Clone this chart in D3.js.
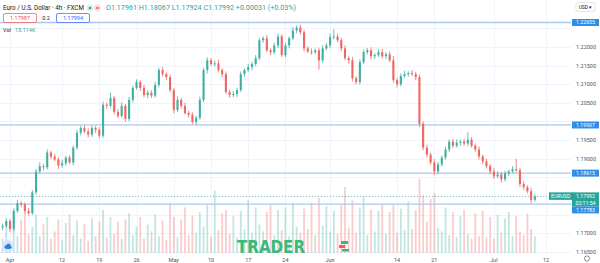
<!DOCTYPE html>
<html>
<head>
<meta charset="utf-8">
<script src="https://d3js.org/d3.v7.min.js"></script>
<style>
  html, body { margin: 0; padding: 0; background: #fff; }
  svg { display: block; font-family: Roboto, "Open Sans", sans-serif; }
</style>
</head>
<body>
<div id="chart"></div>
<script>
// ─── data: EUR/USD, one candle per half trading day (day 0 = Apr 1) ─────────
const startDay = -1;
const step = 0.5;
const firstOpen = 1.1716;
const pip = 0.0001;

const close = [
  1.1720,1.1733,1.1712,1.1760,1.1781,1.1778,1.1760,1.1754,1.1810,1.1866,
  1.1880,1.1877,1.1917,1.1906,1.1898,1.1882,1.1888,1.1903,1.1890,1.1930,
  1.1970,1.1983,1.1973,1.1965,1.1983,1.1978,1.1962,1.2045,1.2042,1.2063,
  1.2026,1.2015,1.2042,1.2007,1.2058,1.2090,1.2106,1.2090,1.2071,1.2077,
  1.2069,1.2098,1.2138,1.2127,1.2119,1.2084,1.2031,1.2058,1.2042,1.2023,
  1.2018,1.1999,1.2010,1.2058,1.2138,1.2164,1.2154,1.2156,1.2138,1.2127,
  1.2079,1.2071,1.2074,1.2084,1.2127,1.2138,1.2146,1.2154,1.2170,1.2218,
  1.2223,1.2191,1.2186,1.2204,1.2228,1.2178,1.2204,1.2223,1.2244,1.2252,
  1.2239,1.2196,1.2188,1.2186,1.2191,1.2164,1.2196,1.2204,1.2226,1.2228,
  1.2218,1.2196,1.2170,1.2164,1.2116,1.2106,1.2159,1.2186,1.2191,1.2175,
  1.2178,1.2186,1.2175,1.2180,1.2164,1.2111,1.2100,1.2122,1.2127,1.2130,
  1.2127,1.2119,1.1994,1.1930,1.1911,1.1890,1.1866,1.1885,1.1903,1.1925,
  1.1946,1.1935,1.1943,1.1946,1.1941,1.1951,1.1935,1.1925,1.1906,1.1893,
  1.1880,1.1866,1.1853,1.1858,1.1845,1.1861,1.1866,1.1872,1.1869,1.1832,
  1.1824,1.1813,1.1790,1.17992
];

// wick length beyond the body, in pips
const wickHi = [
  6,8,5,7,9,6,5,8,6,7,   10,6,8,5,7,6,9,5,7,6,   8,5,7,9,6,5,7,8,6,14,
  6,7,9,5,8,6,7,5,8,6,   7,9,6,8,5,7,6,9,5,8,    6,7,5,9,6,8,6,7,10,5,
  7,6,8,6,7,5,9,6,8,7,   6,9,5,7,8,6,7,5,9,6,    8,7,6,8,5,7,9,6,10,20,
  7,6,8,5,9,6,8,7,6,8,   5,7,9,6,8,12,6,7,9,5,   8,6,7,6,8,5,9,7,6,8,
  6,7,9,6,8,20,7,6,8,5,  7,6,9,8,6,7,5,8,28,6,   7,5,9,6
];
const wickLo = [
  7,5,9,6,5,8,7,6,5,6,   5,8,6,7,5,9,6,7,5,8,    6,7,5,8,6,9,7,6,8,5,
  7,6,5,8,6,7,5,8,6,9,   6,5,7,6,8,5,9,6,7,5,    8,6,7,5,6,9,5,7,6,8,
  5,7,6,8,5,7,6,9,5,6,   7,5,8,6,7,5,6,8,5,7,    6,8,5,7,6,25,7,5,8,6,
  5,7,6,9,8,6,7,5,6,8,   7,5,6,8,5,7,9,6,5,7,    6,8,9,7,8,6,10,7,6,5,
  7,6,5,8,6,7,5,6,8,7,   6,8,7,5,9,6,7,5,6,8,    7,6,10,5
];

// volume, thousands
const volume = [
  12,26,10,30,14,28,34,16,22,32,  14,24,30,12,18,28,11,25,32,15,
  27,12,24,10,29,14,26,36,13,30,  16,26,12,28,33,15,22,30,12,24,
  18,32,14,27,11,42,30,13,28,38,  15,31,17,34,22,40,14,52,19,33,
  36,16,31,13,35,20,44,17,38,24,  18,34,40,15,36,19,38,14,42,22,
  17,37,20,42,15,46,23,39,18,35,  16,40,55,21,44,17,38,47,15,36,
  18,35,40,16,34,41,17,37,19,43,  20,36,62,48,26,45,50,21,18,38,
  15,34,13,31,36,16,12,33,14,35,  13,30,12,32,17,29,34,14,31,18,
  15,33,20,14
];

// time axis (trading-day index) and price axis
const tickDays   = [0, 7, 12, 17, 22, 27, 32, 37, 43, 52, 57, 65, 72];
const tickLabels = ["Apr","12","19","26","May","10","17","24","Jun","14","21","Jul","12"];
const priceTicks = [1.165,1.170,1.175,1.180,1.185,1.190,1.195,1.200,1.205,1.210,1.215,1.220,1.225];

// horizontal levels drawn on the chart
const levels = [1.22655, 1.19907, 1.18615, 1.17783];
const lastPrice = 1.17992;

// ─── layout ──────────────────────────────────────────────────────────────────
const W = 600, H = 263;
const plotRight = 571, plotBottom = 253;
const upCol = "#3fb0a3", downCol = "#ef6562";
const lvlCol = "#a9c8ef", lblCol = "#2e8de6";

const x = d3.scaleLinear().domain([0, 72]).range([10, 546]);
const y = d3.scaleLinear().domain([1.165, 1.22655]).range([252, 22.5]);
const yVol = d3.scaleLinear().domain([0, 60]).range([plotBottom, plotBottom - 72]);

const candles = close.map((c, i) => {
  const o = i === 0 ? firstOpen : close[i - 1];
  return {
    day: startDay + i * step, o, c,
    h: Math.max(o, c) + wickHi[i] * pip,
    l: Math.min(o, c) - wickLo[i] * pip,
    v: volume[i]
  };
});

const svg = d3.select("#chart").append("svg")
  .attr("width", W).attr("height", H);

svg.append("rect").attr("width", W).attr("height", H).attr("fill", "#fff");

svg.append("clipPath").attr("id", "plot")
  .append("rect").attr("width", plotRight).attr("height", plotBottom);

// grid
const grid = svg.append("g").attr("stroke", "#f0f3fa").attr("stroke-width", 1);
grid.selectAll("line.v").data(tickDays).join("line")
  .attr("x1", d => Math.round(x(d)) + 0.5).attr("x2", d => Math.round(x(d)) + 0.5)
  .attr("y1", 0).attr("y2", plotBottom);
grid.selectAll("line.h").data(priceTicks).join("line")
  .attr("x1", 0).attr("x2", plotRight)
  .attr("y1", d => Math.round(y(d)) + 0.5).attr("y2", d => Math.round(y(d)) + 0.5);

const plot = svg.append("g").attr("clip-path", "url(#plot)");

// volume
plot.append("g").selectAll("rect").data(candles).join("rect")
  .attr("x", d => x(d.day) - 0.9)
  .attr("width", 1.8)
  .attr("y", d => yVol(d.v))
  .attr("height", d => plotBottom - yVol(d.v))
  .attr("fill", d => d.c >= d.o ? upCol : downCol)
  .attr("opacity", 0.32);

// level lines
plot.append("g").selectAll("line").data(levels).join("line")
  .attr("x1", 0).attr("x2", plotRight)
  .attr("y1", d => y(d)).attr("y2", d => y(d))
  .attr("stroke", lvlCol).attr("stroke-width", 1.3);

// last price line
plot.append("line")
  .attr("x1", 0).attr("x2", plotRight)
  .attr("y1", y(lastPrice)).attr("y2", y(lastPrice))
  .attr("stroke", "#26a69a").attr("stroke-opacity", 0.6)
  .attr("stroke-dasharray", "1,2");

// candles
const cg = plot.append("g").selectAll("g").data(candles).join("g")
  .attr("fill", d => d.c >= d.o ? upCol : downCol)
  .attr("stroke", d => d.c >= d.o ? upCol : downCol);
cg.append("line")
  .attr("x1", d => x(d.day)).attr("x2", d => x(d.day))
  .attr("y1", d => y(d.h)).attr("y2", d => y(d.l))
  .attr("stroke-width", 0.8);
cg.append("rect")
  .attr("stroke", "none")
  .attr("x", d => x(d.day) - 1.05).attr("width", 2.1)
  .attr("y", d => y(Math.max(d.o, d.c)))
  .attr("height", d => Math.max(1, Math.abs(y(d.o) - y(d.c))));

// watermark
svg.append("text")
  .attr("x", 237).attr("y", 252.5)
  .attr("textLength", 68).attr("lengthAdjust", "spacingAndGlyphs")
  .style("font-size", "17px").style("font-weight", "900")
  .style("font-family", "'DejaVu Sans', sans-serif")
  .attr("fill", "#3cb879").text("TRADER");
svg.append("rect").attr("x", 341).attr("y", 241).attr("width", 7).attr("height", 3).attr("fill", "#3cb879");
svg.append("rect").attr("x", 339).attr("y", 245).attr("width", 6).attr("height", 3).attr("fill", "#e9605c");
svg.append("rect").attr("x", 342).attr("y", 249).attr("width", 7).attr("height", 2.5).attr("fill", "#3cb879");

// tv logo
svg.append("circle").attr("cx", 8).attr("cy", 246).attr("r", 6).attr("fill", "#d6e6fa");
svg.append("ellipse").attr("cx", 8).attr("cy", 247).attr("rx", 3.6).attr("ry", 2).attr("fill", "#2f7fe0");
svg.append("circle").attr("cx", 8.5).attr("cy", 245.5).attr("r", 2).attr("fill", "#2f7fe0");

// last price label + level labels (levels pushed down when they hit it)
const lpY = y(lastPrice);
const boxes = [[lpY - 4, lpY + 10]];
const lvlTops = levels.map(v => {
  let top = y(v) - 3.5;
  boxes.forEach(([a, b]) => { if (top < b && top + 7 > a) top = b; });
  boxes.push([top, top + 7]);
  return top;
});

// price axis: skip tick labels hidden under a label box
const axisText = svg.append("g")
  .style("font-size", "5.5px").attr("fill", "#50535e").attr("text-anchor", "middle");
axisText.selectAll("text")
  .data(priceTicks.filter(p => !boxes.some(([a, b]) => y(p) > a - 3 && y(p) < b + 3)))
  .join("text")
  .attr("x", 586).attr("y", d => y(d) + 2)
  .text(d => d.toFixed(5));

svg.append("rect").attr("x", 549).attr("y", lpY - 4).attr("width", 24).attr("height", 7.5).attr("fill", "#26a69a");
svg.append("rect").attr("x", 572).attr("y", lpY - 4).attr("width", 27).attr("height", 14).attr("fill", "#26a69a");
const lpText = svg.append("g").attr("fill", "#fff").style("font-size", "5.2px");
lpText.append("text").attr("x", 551).attr("y", lpY + 2).text("EURUSD");
lpText.append("text").attr("x", 585.5).attr("y", lpY + 2).attr("text-anchor", "middle").text(lastPrice.toFixed(5));
lpText.append("text").attr("x", 585.5).attr("y", lpY + 8.5).attr("text-anchor", "middle").text("02:11:54");

levels.forEach((v, i) => {
  const top = lvlTops[i];
  svg.append("rect").attr("x", 572).attr("y", top).attr("width", 27).attr("height", 7).attr("fill", lblCol);
  svg.append("text").attr("x", 585.5).attr("y", top + 5.3).attr("text-anchor", "middle")
    .style("font-size", "5.2px").attr("fill", "#fff").text(v.toFixed(5));
});

// date axis
svg.append("g").style("font-size", "5.5px").attr("fill", "#50535e").attr("text-anchor", "middle")
  .selectAll("text").data(tickDays).join("text")
  .attr("x", d => x(d)).attr("y", 262.3)
  .text((d, i) => tickLabels[i]);

// gear
svg.append("circle").attr("cx", 587).attr("cy", 258.5).attr("r", 2.6)
  .attr("fill", "none").attr("stroke", "#6a6d78").attr("stroke-width", 0.8);

// currency switch
svg.append("rect").attr("x", 576).attr("y", 2.5).attr("width", 19).attr("height", 9).attr("rx", 2)
  .attr("fill", "#fff").attr("stroke", "#d1d4dc").attr("stroke-width", 0.6);
svg.append("text").attr("x", 585.5).attr("y", 8.8).attr("text-anchor", "middle")
  .style("font-size", "5px").attr("fill", "#131722").text("USD ▾");

// legend
const lg = svg.append("g").style("font-size", "6.3px");
lg.append("text").attr("x", 3).attr("y", 10).attr("fill", "#131722")
  .text("Euro / U.S. Dollar · 4h · FXCM");
lg.append("circle").attr("cx", 90).attr("cy", 8).attr("r", 3.4).attr("fill", "#d8f0ec");
lg.append("circle").attr("cx", 90).attr("cy", 8).attr("r", 1.3).attr("fill", "#26a69a");
lg.append("circle").attr("cx", 97.5).attr("cy", 8).attr("r", 3.4).attr("fill", "#fbdcdc");
lg.append("rect").attr("x", 96).attr("y", 7.3).attr("width", 3).attr("height", 1.4).attr("fill", "#ef5350");
lg.append("text").attr("x", 106).attr("y", 10).attr("fill", "#26a69a")
  .attr("textLength", 190).attr("lengthAdjust", "spacingAndGlyphs")
  .text("O1.17961 H1.18067 L1.17924 C1.17992 +0.00031 (+0.03%)");

lg.append("rect").attr("x", 3.5).attr("y", 13.5).attr("width", 33).attr("height", 9).attr("rx", 1.5)
  .attr("fill", "#fff").attr("stroke", "#ef5350").attr("stroke-width", 0.7);
lg.append("text").attr("x", 20).attr("y", 20.3).attr("text-anchor", "middle").attr("fill", "#ef5350")
  .style("font-size", "5.5px").text("1.17987");
lg.append("text").attr("x", 46).attr("y", 20.3).attr("text-anchor", "middle").attr("fill", "#131722")
  .style("font-size", "5.5px").text("0.2");
lg.append("rect").attr("x", 56.5).attr("y", 13.5).attr("width", 33).attr("height", 9).attr("rx", 1.5)
  .attr("fill", "#fff").attr("stroke", "#2962ff").attr("stroke-width", 0.7);
lg.append("text").attr("x", 73).attr("y", 20.3).attr("text-anchor", "middle").attr("fill", "#2962ff")
  .style("font-size", "5.5px").text("1.17994");

lg.append("text").attr("x", 3).attr("y", 32).attr("fill", "#131722").style("font-size", "5.5px").text("Vol");
lg.append("text").attr("x", 15).attr("y", 32).attr("fill", "#26a69a").style("font-size", "5.5px").text("15.114K");
</script>
</body>
</html>
